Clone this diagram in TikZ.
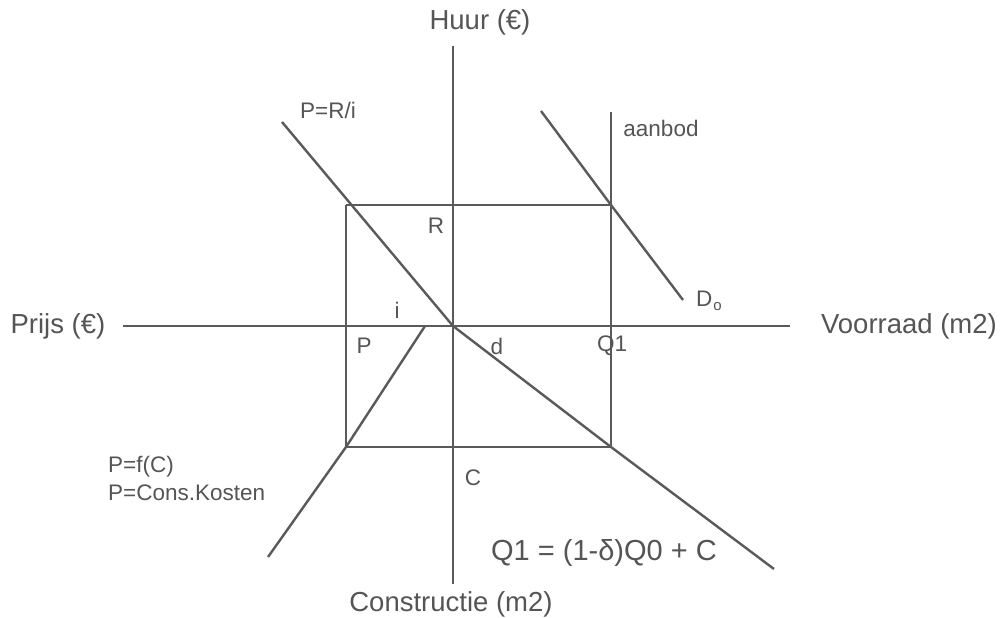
\documentclass[tikz,border=0pt]{standalone}
\usepackage{fontspec}
\setmainfont{Liberation Sans}
\definecolor{linegray}{HTML}{5A5A5A}
\definecolor{textgray}{HTML}{555555}
\tikzset{
  ln/.style={draw=linegray, line width=2.4pt},
  big/.style={text=textgray, inner sep=0pt, font=\fontsize{27.5}{31}\selectfont},
  small/.style={text=textgray, inner sep=0pt, font=\fontsize{22.5}{27}\selectfont},
}
\begin{document}
\begin{tikzpicture}[x=1pt,y=-1pt]
\useasboundingbox[fill=white] (0,0) rectangle (1001,618);
% key points
\coordinate (O) at (453,326);
\coordinate (vtop) at (453,46);
\coordinate (vbot) at (453,584);
\coordinate (hleft) at (123,326);
\coordinate (hright) at (790,326);
\coordinate (TL) at (346,205);
\coordinate (TR) at (611,205);
\coordinate (BL) at (346,447);
\coordinate (BR) at (611,447);
\coordinate (stop) at (611,112);
\coordinate (prstart) at (282,122);
\coordinate (dend) at (774,569);
\coordinate (cstart) at (425,326);
\coordinate (cend) at (268,557);
\coordinate (dtop) at (541,111);
\coordinate (dbot) at (683,300);
% axes
\draw[ln] (vtop) -- (vbot);
\draw[ln] (hleft) -- (hright);
% rectangle
\draw[ln] (TL) -- (TR);
\draw[ln] (BL) -- (BR);
\draw[ln] (TL) -- (BL);
% supply line
\draw[ln] (stop) -- (BR);
% P=R/i line
\draw[ln] (prstart) -- (O);
% depreciation line
\draw[ln] (O) -- (BR) -- (dend);
% construction cost line
\draw[ln] (cstart) -- (BL) -- (cend);
% demand
\draw[ln] (dtop) -- (TR) -- (dbot);
% labels
\node[big] (huur) at (480,22) {Huur (€)};
\node[big] (prijs) at (58,326) {Prijs (€)};
\node[big] (voorraad) at (909,326) {Voorraad (m2)};
\node[big] (constr) at (451,604) {Constructie (m2)};
\node[big, font=\fontsize{29}{32}\selectfont] (eq) at (604,553) {Q1 = (1-δ)Q0 + C};
\node[small] (pri) at (328,110) {P=R/i};
\node[small] (aanbod) at (661,128) {aanbod};
\node[small] (R) at (436,226) {R};
\node[small] (i) at (397,310) {i};
\node[small] (P) at (364,346) {P};
\node[small] (d) at (497,346) {d};
\node[small] (Q1) at (612,346) {Q1};
\node[small] (C) at (473,478) {C};
\node[small, anchor=west] (Do) at (696,301) {D\kern1pt\raisebox{-0.35ex}{\fontsize{15}{17}\selectfont o}};
\node[small, anchor=west] (pfc) at (108,467) {P=f(C)};
\node[small, anchor=west] (pck) at (108,493) {P=Cons.Kosten};
\end{tikzpicture}
\end{document}
